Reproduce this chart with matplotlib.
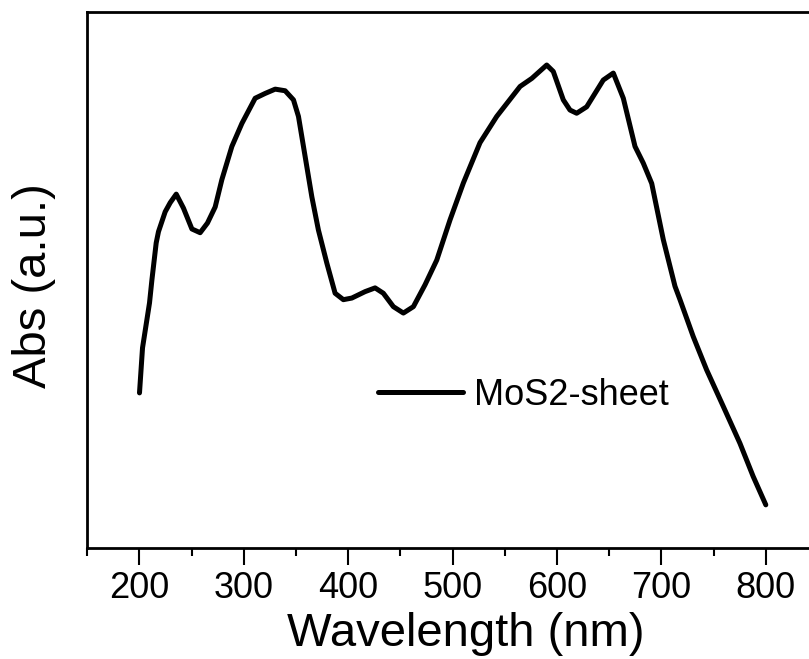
import numpy as np
import matplotlib.pyplot as plt

plt.rcParams['font.family'] = ['Liberation Sans', 'DejaVu Sans']

# UV-vis absorbance of the MoS2 sheet
wavelength = [200, 202.9, 209.6, 211.9, 216.0, 218.2, 224.6, 229.4, 235.2, 242.1,
              250.2, 258.1, 265.1, 272.5, 278.9, 288.5, 298.1, 310.8, 320.4, 330.0,
              339.5, 347.5, 352.3, 358.7, 365.1, 371.4, 379.5, 387.4, 395.3, 403.4,
              416.1, 425.7, 433.6, 443.2, 452.8, 462.4, 473.6, 484.8, 497.5, 510.3,
              526.2, 542.2, 564.6, 575.8, 590.1, 596.4, 606.0, 612.4, 618.8, 628.4,
              644.3, 653.9, 663.5, 674.7, 682.6, 690.7, 701.8, 713.0, 717.8, 730.5,
              743.3, 759.2, 775.2, 787.9, 800]
absorb = [0.289, 0.373, 0.457, 0.500, 0.569, 0.590, 0.627, 0.644, 0.660, 0.634,
          0.595, 0.588, 0.606, 0.636, 0.687, 0.749, 0.792, 0.839, 0.848, 0.856,
          0.853, 0.836, 0.805, 0.730, 0.655, 0.593, 0.531, 0.475, 0.463, 0.466,
          0.478, 0.485, 0.475, 0.450, 0.438, 0.450, 0.491, 0.537, 0.612, 0.681,
          0.756, 0.805, 0.861, 0.876, 0.901, 0.889, 0.836, 0.817, 0.811, 0.823,
          0.873, 0.886, 0.839, 0.749, 0.718, 0.680, 0.575, 0.488, 0.463, 0.394,
          0.332, 0.264, 0.195, 0.133, 0.080]
xticks = [200, 300, 400, 500, 600, 700, 800]

fig = plt.figure(figsize=(8.09, 6.59), dpi=100)
ax = fig.add_axes([87.3/809, 1-547.7/659, (818-87.3)/809, (547.7-12)/659])

ax.plot(wavelength, absorb, color='black', lw=3.6, label='MoS2-sheet',
        solid_joinstyle='round', solid_capstyle='round')

ax.set_xlim(150, 850)
ax.set_ylim(0, 1)
ax.set_xticks(xticks)
ax.set_xticks(np.arange(150, 850, 100), minor=True)
ax.set_yticks([])
ax.tick_params(axis='x', which='major', length=12, width=1.5, labelsize=26, pad=5)
ax.tick_params(axis='x', which='minor', length=6, width=1.5)
for s in ax.spines.values():
    s.set_linewidth(2)

ax.set_xlabel('Wavelength (nm)', fontsize=34)
ax.set_ylabel('Abs (a.u.)', fontsize=34)
ax.xaxis.set_label_coords(0.518, -0.12)
ax.yaxis.set_label_coords(-0.043, 0.49)

ax.legend(loc='center left', bbox_to_anchor=(0.398, 0.284), frameon=False,
          fontsize=26, handlelength=2.35, handletextpad=0.3,
          borderpad=0, borderaxespad=0)

fig.savefig('out.png', dpi=100)
